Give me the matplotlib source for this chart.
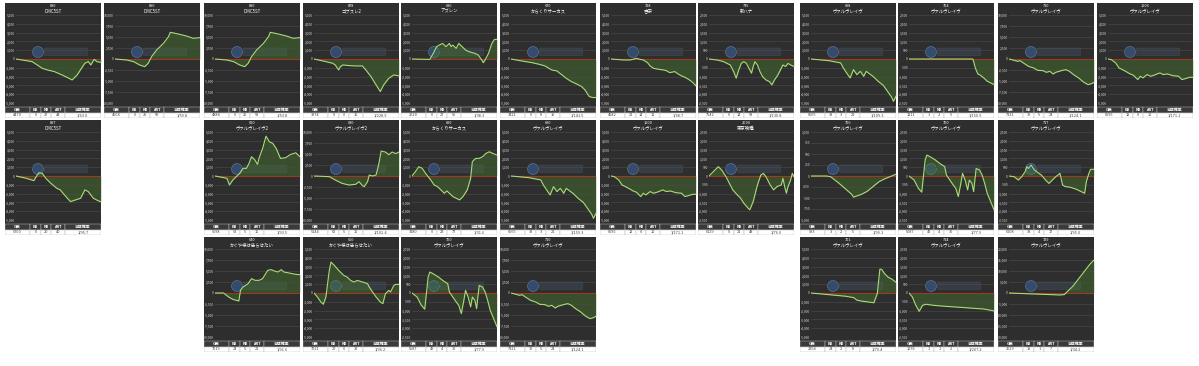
import matplotlib.pyplot as plt
import numpy as np
from matplotlib.patches import Rectangle, Circle, FancyBboxPatch

plt.rcParams['font.family'] = ['Noto Sans CJK JP', 'DejaVu Sans']

# curves: (progress %, coin difference)
c880a = [(0, 0), (19, -300), (25, -680), (31, -1060), (37, -1250), (45, -1430), (54, -1810), (60, -2080),
         (66, -2380), (72, -1810), (77, -1060), (81, -490), (85, -300), (88, -680), (92, -40), (95, -300), (100, -380)]
c880b = [(0, 0), (14, -230), (22, -610), (29, -1360), (35, -1740), (39, -980), (43, 530), (49, 2050), (57, 3560),
         (63, 5080), (65, 6060), (71, 5830), (76, 5610), (84, 5230), (92, 4700), (100, 4850)]
c887 = [(0, 0), (12, -260), (21, -530), (25, 110), (27, 380), (31, 300), (35, -260), (41, -830), (48, -1400),
        (52, -1580), (58, -2260), (64, -2910), (70, -2720), (76, -2530), (81, -1580), (85, -1770), (91, -2530),
        (97, -2830), (100, -2910)]
c878 = [(0, 0), (14, -300), (22, -490), (25, -680), (29, -1250), (31, -870), (34, -680), (41, -750), (49, -790),
        (57, -790), (61, -1250), (67, -2000), (73, -2940), (78, -3700), (82, -2940), (88, -2190), (94, -1810), (100, -1920)]
c620 = [(0, 0), (14, -260), (17, -1020), (21, -450), (25, -80), (29, 300), (33, 870), (37, 870), (40, 1430),
        (43, 2190), (47, 1810), (50, 1320), (52, 2080), (56, 3130), (60, 4530), (64, 3890), (68, 3700), (72, 3130),
        (77, 2000), (83, 2080), (89, 2450), (95, 2640), (100, 2190)]
c630 = [(0, 0), (18, -150), (25, -910), (33, -1670), (41, -2050), (49, -1890), (53, -1290), (57, -2200),
        (59, -2420), (63, -1290), (65, 230), (69, 0), (73, 230), (76, 2500), (79, 5680), (84, 5450), (88, 4850),
        (92, 5450), (96, 5080), (100, 5450)]
c640 = [(0, 0), (10, 0), (16, -910), (21, -1440), (25, -1670), (28, -1820), (30, 610), (33, 1360), (39, 2120),
        (43, 3260), (47, 2880), (52, 2880), (56, 3260), (62, 5150), (66, 5300), (70, 5000), (74, 4770), (78, 5300),
        (81, 4770), (87, 4550), (95, 4240), (100, 4170)]
c650 = [(0, 0), (4, -450), (8, -1020), (11, -1280), (14, -450), (16, 1060), (18, 2570), (20, 3510), (24, 3130),
        (29, 2570), (35, 2000), (39, 1810), (43, 1430), (47, 1250), (51, 1430), (57, 1250), (63, 1060), (65, 680),
        (69, 110), (73, -450), (78, -1020), (81, -1210), (84, -80), (88, 300), (90, 110), (94, 870), (96, 980), (100, 980)]
c680 = [(0, 0), (17, -40), (21, -40), (25, 640), (29, 1400), (32, 1580), (36, 1770), (40, 1400), (44, 1770),
        (46, 1400), (48, 1580), (52, 1210), (55, 1770), (59, 1400), (63, 1020), (67, 830), (74, 640), (78, 450),
        (82, -110), (84, -420), (87, 75), (90, 640), (94, 1770), (97, 2230), (100, 2230)]
c670 = [(0, 0), (13, -230), (25, -420), (33, -600), (40, -790), (48, -1250), (54, -1360), (60, -1810), (65, -2190),
        (71, -2570), (77, -2830), (83, -3130), (87, -3510), (92, -4260), (96, -4380), (100, -4380)]
c690 = [(0, 0), (4, 490), (8, 1060), (12, 870), (16, 300), (22, -450), (26, -1020), (30, -1210), (34, -1580),
        (38, -1960), (41, -1700), (44, -1960), (48, -2340), (52, -2530), (56, -2720), (60, -2340), (65, -1580),
        (69, -260), (71, 1640), (75, 2000), (79, 2000), (83, 2190), (87, 2570), (91, 2750), (95, 2570), (100, 2380)]
c698 = [(0, 0), (21, -190), (35, -450), (38, -1020), (42, -1590), (46, -2160), (50, -1210), (54, -1780),
        (58, -1400), (62, -1970), (65, -1400), (69, -1700), (73, -1970), (79, -2540), (85, -2990), (90, -3670),
        (95, -4360), (97, -4810), (100, -4240)]
c700 = [(0, 0), (6, -230), (11, -700), (15, -920), (19, 910), (21, 1190), (25, 1090), (31, 910), (36, 720),
        (42, 530), (44, 60), (48, -230), (52, -510), (55, -700), (58, -1170), (61, -420), (63, 150), (66, -230),
        (69, -790), (71, -230), (74, -420), (76, -890), (79, 430), (83, 340), (86, 60), (89, -420), (92, -980),
        (96, -1450), (100, -1920)]
c710 = [(0, 0), (6, -300), (10, -530), (13, -380), (17, -910), (23, -1670), (29, -2050), (34, -2580), (40, -2650),
        (44, -3030), (48, -2800), (52, -3410), (55, -3030), (59, -2800), (63, -2580), (67, -2420), (71, -2800),
        (76, -3560), (82, -4320), (88, -5300), (93, -5830), (97, -5610), (100, -5300)]
c728 = [(0, 0), (15, -110), (22, -110), (26, -40), (30, 75), (34, -40), (38, -110), (43, -420), (46, -790),
        (50, -1060), (56, -1170), (62, -1250), (65, -1320), (69, -1550), (75, -1430), (79, -1700), (83, -1920),
        (87, -2080), (91, -2300), (95, -2570), (99, -2940), (100, -3060)]
c735 = [(0, 0), (10, -60), (17, -150), (25, -340), (29, -720), (32, -1090), (35, -620), (38, -250), (41, -150),
        (44, -250), (48, -620), (50, -810), (52, -430), (54, -150), (57, -340), (60, -720), (63, -1000), (67, -1190),
        (71, -1280), (74, -1470), (77, -1190), (81, -910), (85, -530), (87, -340), (90, -430), (93, -250), (96, -340),
        (100, -430)]
c1000 = [(0, 0), (4, -80), (9, -450), (13, -1020), (17, -1210), (22, -1470), (26, -1700), (30, -1850), (35, -2340),
         (38, -1960), (41, -2150), (46, -1770), (50, -1960), (54, -1850), (61, -1580), (65, -1770), (70, -1700),
         (76, -1890), (83, -1960), (87, -2340), (91, -2230), (96, -2080), (100, -2080)]
c2000 = [(0, 0), (7, 340), (11, 530), (15, 340), (20, -40), (24, -420), (28, -790), (33, -1060), (37, -1250),
         (41, -1550), (46, -1830), (48, -1920), (52, -1450), (57, -510), (61, 60), (64, 150), (67, -40), (72, -510),
         (76, -790), (80, -600), (85, -510), (87, -130), (89, -600), (91, -980), (93, -600), (96, -230), (98, 150),
         (100, -40)]
c704 = [(0, 0), (22, 0), (41, 0), (61, 0), (75, 0), (76, -130), (78, -510), (81, -850), (84, -920), (88, -1080),
        (92, -1260), (96, -1360), (100, -1450)]
c706 = [(0, 0), (18, 0), (23, -15), (32, -150), (41, -300), (48, -420), (50, -480), (59, -420), (66, -350),
        (73, -240), (80, -130), (86, -70), (93, -15), (100, 40)]
c717 = [(0, 0), (6, -40), (11, -230), (15, -40), (19, 250), (21, 530), (23, 430), (26, 620), (30, 340), (34, 190),
        (38, 60), (43, -230), (47, -420), (51, -230), (55, -40), (60, 150), (63, -510), (66, -600), (72, -640),
        (79, -750), (85, -890), (89, -980), (91, -320), (94, 150), (96, 380), (100, 380)]
c701 = [(0, 0), (21, -190), (41, -370), (50, -520), (54, -810), (60, -930), (66, -1000), (74, -1110), (78, -70),
        (81, 2700), (83, 2700), (87, 2150), (91, 1780), (95, 1590), (100, 1220)]
c714 = [(0, 0), (4, -230), (8, -700), (12, -1040), (16, -700), (20, -640), (29, -700), (41, -750), (53, -790),
        (65, -830), (76, -870), (88, -910), (100, -1020)]
c729 = [(0, 0), (20, -300), (40, -600), (60, -900), (65, -700), (75, 3000), (85, 8000), (95, 13000), (100, 15000)]

header = ['G数', 'BB', 'RB', 'ART', '合成確率']
col_w = [0.26, 0.12, 0.10, 0.14, 0.38]

# (left px, top px, curve, number, machine, y max, tick step, table values)
panels = [
    (5, 3, c880a, '880', 'DMC5ST', 5000, 1000, ['4470', '0', '27', '44', '1/63.0']),
    (104, 3, c880b, '880', 'DMC5ST', 10000, 2500, ['4564', '0', '25', '59', '1/59.8']),
    (204, 3, c880b, '880', 'DMC5ST', 10000, 2500, ['4884', '0', '25', '58', '1/53.8']),
    (303, 3, c878, '878', 'ゴブスレ2', 5000, 1000, ['3874', '0', '0', '16', '1/228.9']),
    (401, 3, c680, '680', 'アズレン', 5000, 1000, ['2620', '0', '27', '56', '1/38.3']),
    (500, 3, c670, '670', 'からくりサーカス', 5000, 1000, ['3421', '0', '8', '19', '1/141.5']),
    (600, 3, c728, '728', '吉宗', 5000, 1000, ['4582', '21', '14', '11', '1/68.7']),
    (698, 3, c735, '735', '新ハナ', 2500, 500, ['7542', '0', '14', '58', '1/130.8']),
    (800, 3, c698, '698', 'ヴァルヴレイヴ', 5000, 1000, ['6665', '38', '3', '22', '1/109.3']),
    (898, 3, c704, '704', 'ヴァルヴレイヴ', 2500, 500, ['1211', '1', '2', '5', '1/150.9']),
    (998, 3, c710, '710', 'ヴァルヴレイヴ', 10000, 2500, ['7321', '30', '5', '24', '1/124.1']),
    (1097, 3, c1000, '1006', 'ヴァルヴレイヴ', 5000, 1000, ['6695', '12', '0', '10', '1/171.1']),
    (5, 120, c887, '887', 'DMC5ST', 5000, 1000, ['5700', '0', '20', '40', '1/95.7']),
    (204, 120, c620, '620', 'ヴァルヴレイヴ2', 5000, 1000, ['5698', '53', '5', '15', '1/93.5']),
    (303, 120, c630, '630', 'ヴァルヴレイヴ2', 10000, 2500, ['5144', '62', '5', '15', '1/102.4']),
    (401, 120, c690, '690', 'からくりサーカス', 5000, 1000, ['3180', '0', '23', '77', '1/31.6']),
    (500, 120, c698, '690', 'ヴァルヴレイヴ', 5000, 1000, ['6665', '38', '3', '22', '1/159.3']),
    (600, 120, c1000, '1000', 'ヴァルヴレイヴ', 5000, 1000, ['6695', '12', '0', '10', '1/171.1']),
    (698, 120, c2000, '2000', '東京喰種', 2500, 500, ['6129', '0', '21', '48', '1/76.6']),
    (800, 120, c706, '706', 'ヴァルヴレイヴ', 1000, 250, ['993', '3', '2', '5', '1/99.3']),
    (898, 120, c700, '700', 'ヴァルヴレイヴ', 2500, 500, ['5687', '49', '4', '30', '1/77.9']),
    (998, 120, c717, '717', 'ヴァルヴレイヴ', 2500, 500, ['6108', '33', '4', '17', '1/95.0']),
    (204, 237, c640, '640', 'かぐや様は告らせたい', 10000, 2500, ['7019', '24', '5', '21', '1/91.6']),
    (303, 237, c650, '650', 'かぐや様は告らせたい', 5000, 1000, ['7021', '27', '6', '32', '1/96.2']),
    (401, 237, c700, '700', 'ヴァルヴレイヴ', 2500, 500, ['5687', '49', '4', '30', '1/77.9']),
    (500, 237, c710, '710', 'ヴァルヴレイヴ', 10000, 2500, ['7321', '30', '5', '24', '1/124.1']),
    (800, 237, c701, '701', 'ヴァルヴレイヴ', 5000, 1000, ['2394', '24', '2', '8', '1/70.4']),
    (898, 237, c714, '714', 'ヴァルヴレイヴ', 2500, 500, ['1036', '1', '1', '2', '1/207.2']),
    (998, 237, c729, '729', 'ヴァルヴレイヴ', 20000, 5000, ['2629', '19', '1', '7', '1/34.2']),
]

W, H = 1199, 366
fig = plt.figure(figsize=(W / 100, H / 100), dpi=100)
fig.patch.set_facecolor('white')


def box(x, y, w, h):
    return [x / W, 1 - (y + h) / H, w / W, h / H]


PW, PH = 96, 115
for left, top, curve, num, name, ymax, step, stats in panels:
    # panel background, titles, logo and table
    bg = fig.add_axes(box(left, top, PW, PH))
    bg.set_xlim(0, PW)
    bg.set_ylim(PH, 0)
    bg.axis('off')
    bg.add_patch(Rectangle((0, 0), PW, 109.5, color='#2e2e2e'))
    bg.text(PW / 2, 3.2, num, color='white', fontsize=2.8, ha='center', va='center')
    bg.text(PW / 2, 8.2, name, color='white', fontsize=3.2, ha='center', va='center')
    bg.add_patch(Circle((33, 49), 5.5, color='#36609e', alpha=0.6, ec='#8fa8c8', lw=0.4))
    bg.add_patch(FancyBboxPatch((40, 45.5), 42, 6.5, boxstyle='round,pad=0.5', fc='#4b5d7a', alpha=0.3,
                                ec='#7f93b0', lw=0.3))
    x0 = 0
    for lab, val, fr in zip(header, stats, col_w):
        cw = fr * PW
        bg.add_patch(Rectangle((x0, 103.8), cw, 5.7, fc='#3a3a3a', ec='#cfcfcf', lw=0.3))
        bg.add_patch(Rectangle((x0, 109.5), cw, 5.5, fc='white', ec='#b0b0b0', lw=0.3))
        bg.text(x0 + cw / 2, 106.7, lab, color='white', fontsize=2.8, ha='center', va='center', fontweight='bold')
        bg.text(x0 + cw / 2, 112.3, val, color='#444444', fontsize=2.8, ha='center', va='center')
        x0 += cw

    # chart
    ax = fig.add_axes(box(left + 11, top + 12, PW - 11, 88))
    ax.set_facecolor('none')
    xs, ys = np.array(curve, dtype=float).T
    ax.set_xlim(0, 100)
    ax.set_ylim(-ymax, ymax)
    ticks = np.arange(-ymax, ymax + 1, step)
    ax.set_yticks(ticks)
    ax.set_yticklabels([f'{int(t):,}' for t in ticks])
    ax.tick_params(axis='y', length=0, pad=0.8, labelsize=2.4, labelcolor='#d8d8d8')
    ax.set_xticks([])
    ax.grid(axis='y', color='#4c4c4c', lw=0.4)
    for s in ax.spines.values():
        s.set_visible(False)
    ax.fill_between(xs, ys, 0, color='#4a7f2a', alpha=0.4, lw=0)
    ax.axhline(0, color='#9a3b22', lw=0.8)
    ax.plot(xs, ys, color='#a8dc78', lw=0.8)

fig.savefig('out.png', dpi=100, facecolor='white')
